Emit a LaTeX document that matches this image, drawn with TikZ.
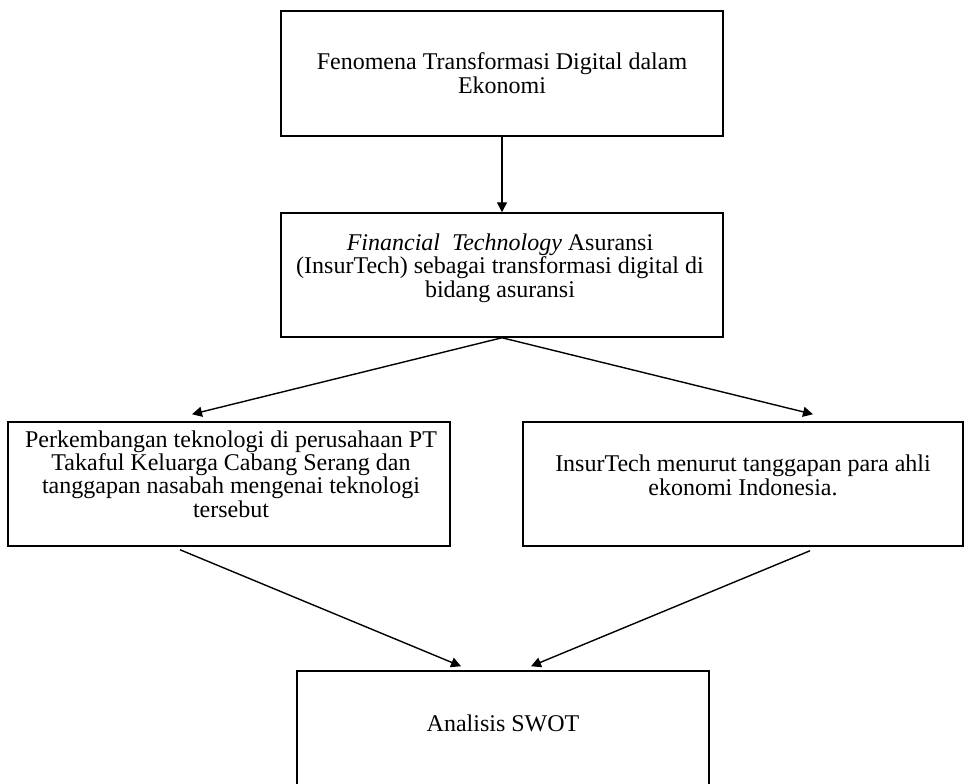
\documentclass[tikz,border=0pt]{standalone}
\usepackage{fontspec}
\setmainfont{Liberation Serif}
\usetikzlibrary{arrows.meta,calc}
\begin{document}
\begin{tikzpicture}[x=1pt,y=-1pt,
  box/.style={draw, line width=1.5pt, inner sep=0pt},
  txt/.style={align=center, anchor=base, inner sep=0pt, font=\fontsize{24}{23.3}\selectfont},
  conn/.style={line width=1.4pt},
  arr/.style={conn, -{Triangle[length=10pt,width=10pt]}}]
\lineskiplimit=-20pt
\useasboundingbox (0,0) rectangle (964,784);
\fill[white] (0,0) rectangle (964,784);
\clip (0,0) rectangle (964,784);
% boxes
\node[box, minimum width=442pt, minimum height=125pt] (b1) at (502,73.5) {};
\node[box, minimum width=442pt, minimum height=124pt] (b2) at (502,275) {};
\node[box, minimum width=442pt, minimum height=124pt] (b3) at (229,484) {};
\node[box, minimum width=440pt, minimum height=124pt] (b4) at (743,484) {};
\node[box, minimum width=412pt, minimum height=129pt] (b5) at (503,735.5) {};
% texts (base anchor = baseline of last line)
\node[txt] (t1) at (502,93) {Fenomena Transformasi Digital dalam\\Ekonomi};
\node[txt] (t2) at (500,297) {\textit{Financial\ \ Technology} Asuransi\\(InsurTech) sebagai transformasi digital di\\bidang asuransi};
\node[txt] (t3) at (231,517) {Perkembangan teknologi di perusahaan PT\\Takaful Keluarga Cabang Serang dan\\tanggapan nasabah mengenai teknologi\\tersebut};
\node[txt] (t4) at (743,495) {InsurTech menurut tanggapan para ahli\\ekonomi Indonesia.};
\node[txt] (t5) at (503,731) {Analisis SWOT};
% connectors
\draw[arr] (b1.south) -- (b2.north);
\draw[arr] (b2.south) -- ($(b3.north)+(-37,-7)$);
\draw[arr] (b2.south) -- ($(b4.north)+(70,-7)$);
\draw[arr] ($(b3.south)+(-49,3)$) -- ($(b5.north)+(-42,-4)$);
\draw[arr] ($(b4.south)+(67,4)$) -- ($(b5.north)+(28,-4)$);
\end{tikzpicture}
\end{document}
